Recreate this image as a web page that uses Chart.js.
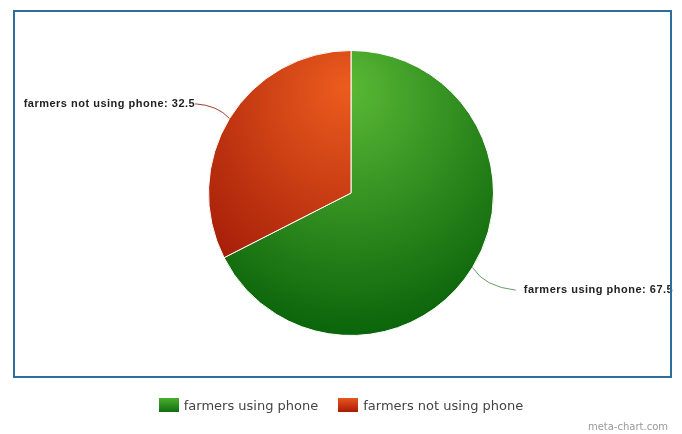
<!DOCTYPE html>
<html>
<head>
<meta charset="utf-8">
<script src="https://cdn.jsdelivr.net/npm/chart.js@4"></script>
<style>
  html, body { margin: 0; padding: 0; background: #fff; }
  #wrap { position: relative; width: 682px; height: 434px; }
  #frame {
    position: absolute; left: 13px; top: 10px; width: 655px; height: 364px;
    border: 2px solid #2f6e9c; pointer-events: none;
  }
  #legend {
    position: absolute; left: 0; top: 398px; width: 682px; text-align: center;
    font: 13px "DejaVu Sans", sans-serif; color: #444; white-space: nowrap;
  }
  #legend span.item { display: inline-block; margin: 0 10px; }
  #legend span.box {
    display: inline-block; width: 20px; height: 14px; vertical-align: -2px; margin-right: 5px;
  }
  #mark {
    position: absolute; right: 14px; top: 421px;
    font: 10px "DejaVu Sans", sans-serif; color: #999;
  }
</style>
</head>
<body>
<div id="wrap">
  <canvas id="myChart" width="682" height="434"></canvas>
  <div id="frame"></div>
  <div id="legend"></div>
  <div id="mark">meta-chart.com</div>
</div>
<script>
const labels = ["farmers using phone", "farmers not using phone"];
const values = [67.5, 32.5];
const innerColors = ["#5cba36", "#ec5c1e"];
const outerColors = ["#0a640a", "#9c1606"];
const swatches = ["linear-gradient(#4cae30, #0f6e0f)", "linear-gradient(#e8561c, #a81a08)"];

// legend built from the labels
const legend = document.getElementById("legend");
labels.forEach((label, i) => {
  const item = document.createElement("span");
  item.className = "item";
  item.innerHTML = `<span class="box" style="background:${swatches[i]}"></span>${label}`;
  legend.appendChild(item);
});

// radial shading for each slice
const sliceFill = (ctx) => {
  const area = ctx.chart.chartArea;
  if (!area) return innerColors[ctx.dataIndex];
  const cx = (area.left + area.right) / 2;
  const cy = (area.top + area.bottom) / 2;
  const r = Math.min(area.right - area.left, area.bottom - area.top) / 2;
  const g = ctx.chart.ctx.createRadialGradient(cx - r * 0.05, cy - r * 0.75, 0, cx, cy - r * 0.5, r * 1.5);
  g.addColorStop(0, innerColors[ctx.dataIndex]);
  g.addColorStop(1, outerColors[ctx.dataIndex]);
  return g;
};

// outside labels with leader lines
const outsideLabels = {
  id: "outsideLabels",
  afterDatasetsDraw(chart) {
    const c = chart.ctx;
    const arcs = chart.getDatasetMeta(0).data;
    arcs.forEach((arc, i) => {
      const { x, y, startAngle, endAngle, outerRadius } = arc.getProps(["x", "y", "startAngle", "endAngle", "outerRadius"], true);
      const mid = (startAngle + endAngle) / 2;
      const cos = Math.cos(mid), sin = Math.sin(mid);
      const right = cos >= 0;
      const ex = x + cos * outerRadius, ey = y + sin * outerRadius;
      const kx = x + cos * (outerRadius + 14), ky = y + sin * (outerRadius + 14);
      const ox = x + cos * (outerRadius + 32) + (right ? 16 : -7);
      const oy = y + sin * (outerRadius + 32) + (right ? 6 : 2);
      c.save();
      c.strokeStyle = right ? "#6a9a6a" : "#a0402a";
      c.lineWidth = 1;
      c.beginPath();
      c.moveTo(ex, ey);
      c.quadraticCurveTo(kx, ky + (right ? 12 : -6), ox, oy);
      c.stroke();
      c.font = "bold 11px 'Liberation Sans', Arial, sans-serif";
      if ("letterSpacing" in c) c.letterSpacing = "0.5px";
      c.fillStyle = "#222";
      c.textBaseline = "middle";
      c.textAlign = right ? "left" : "right";
      c.fillText(`${labels[i]}: ${values[i]}`, ox + (right ? 8 : 0), oy);
      c.restore();
    });
  }
};

const ctx = document.getElementById("myChart").getContext("2d");
new Chart(ctx, {
  type: "pie",
  data: {
    labels,
    datasets: [{
      data: values,
      backgroundColor: sliceFill,
      borderColor: "#ffffff",
      borderWidth: 1,
    }],
  },
  options: {
    responsive: false,
    animation: false,
    layout: { padding: { top: 50, bottom: 98, left: 208, right: 188 } },
    plugins: {
      legend: { display: false },
      tooltip: { enabled: false },
    },
  },
  plugins: [outsideLabels],
});
</script>
</body>
</html>
